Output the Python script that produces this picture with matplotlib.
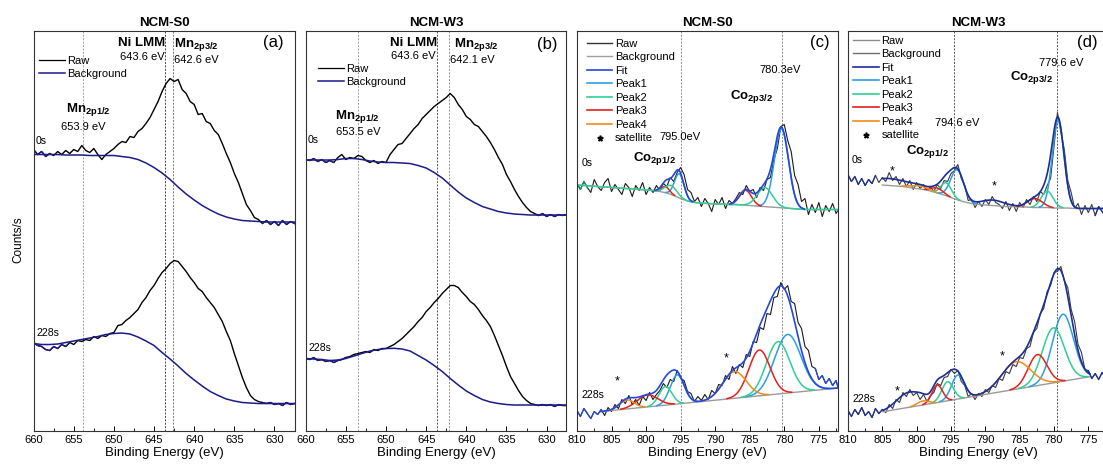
import numpy as np
import matplotlib
matplotlib.use("Agg")
import matplotlib.pyplot as plt
from matplotlib.lines import Line2D
from matplotlib.ticker import MultipleLocator

plt.rcParams['font.family'] = ['Liberation Sans', 'DejaVu Sans']
plt.rcParams['mathtext.fontset'] = 'custom'
plt.rcParams['mathtext.rm'] = 'Liberation Sans'
plt.rcParams['mathtext.bf'] = 'Liberation Sans:bold'

# binding energy axes (eV)
E_MN = np.arange(660.0, 627.25, -0.5)      # raw Mn 2p, 66 pts
E_MN_BG = np.arange(660.0, 626.5, -1.0)    # Mn background, 34 pts
E_CO = np.arange(810.0, 771.75, -0.5)      # raw Co 2p, 77 pts
E_CO_BG = np.arange(810.0, 771.5, -1.0)    # Co background, 39 pts

# ---- (a) NCM-S0, Mn 2p ----
A_RAW_0S = [281, 276, 279, 274, 277, 275, 279, 276, 280, 277,
            281, 279, 285, 280, 278, 282, 276, 271, 276, 279,
            282, 286, 289, 288, 294, 293, 299, 302, 307, 313,
            321, 329, 339, 347, 352, 349, 351, 341, 337, 329,
            326, 316, 317, 309, 307, 300, 296, 287, 277, 268,
            257, 248, 237, 226, 220, 213, 211, 207, 210, 206,
            209, 205, 210, 206, 209, 207]
A_BG_0S = [276, 276, 276, 276, 275.5, 275.5, 275.5, 275, 275, 275, 275, 274,
           273, 271, 267.5, 263, 257.5, 251, 243.5, 236.5, 230.5, 225, 220.5,
           216.5, 213.5, 211.5, 210, 209.5, 209, 208.5, 208.5, 208.5, 208.5, 208.5]
A_RAW_228S = [88, 85, 84, 81, 80, 84, 82, 86, 84, 88,
              86, 90, 89, 91, 90, 94, 92, 95, 94, 97,
              98, 105, 106, 110, 113, 117, 121, 128, 133, 140,
              145, 152, 158, 162, 167, 170, 169, 164, 159, 153,
              148, 142, 139, 133, 128, 123, 116, 109, 99, 90,
              77, 65, 53, 43, 35, 31, 29, 28, 27, 28,
              26, 27, 25, 28, 26, 27]
A_BG_228S = [87, 86, 86, 86.5, 88, 89.5, 91, 92.5, 94, 96, 97, 97.5, 96.5, 93.5,
             89.5, 85, 78, 71.5, 64.5, 57, 50.5, 44.5, 39, 35, 31.5, 29.5, 28,
             27.5, 27, 27, 27, 27, 27, 27]

# ---- (b) NCM-W3, Mn 2p ----
B_RAW_0S = [271, 270, 272, 269, 271, 268, 270, 268, 273, 276,
            271, 273, 272, 275, 274, 270, 268, 270, 267, 269,
            268, 276, 281, 286, 287, 292, 297, 302, 306, 312,
            316, 320, 324, 327, 330, 333, 337, 333, 326, 321,
            314, 311, 306, 304, 299, 294, 288, 281, 273, 266,
            256, 249, 241, 234, 228, 223, 219, 217, 215, 217,
            214, 216, 214, 216, 215, 216]
B_BG_0S = [270.5, 270.5, 270.5, 270.5, 271, 272, 272, 271, 269.5, 268.5, 268,
           268, 267.5, 267, 265, 262.5, 258, 252.5, 245.5, 238.5, 232.5, 228,
           224, 221.5, 219, 217.5, 216.5, 216, 215.5, 215.5, 215.5, 215.5, 215.5, 215.5]
B_RAW_228S = [72, 71, 73, 70, 71, 69, 70, 68, 70, 71,
              73, 74, 76, 77, 78, 79, 78, 81, 80, 82,
              82, 84, 86, 89, 92, 96, 100, 104, 109, 113,
              119, 123, 128, 132, 137, 141, 145, 145, 143, 138,
              134, 129, 126, 121, 115, 110, 104, 95, 85, 75,
              64, 54, 47, 40, 34, 30, 27, 26, 25, 26,
              25, 26, 24, 26, 25, 25]
B_BG_228S = [72, 71.5, 71, 70, 70.5, 72, 74.5, 77, 79.5, 81, 82, 82.2, 81.5, 79.5,
             75, 70.5, 65, 59, 52, 45.5, 39.5, 35, 31, 28.5, 27, 26, 25.5, 25.5,
             25.5, 25.5, 25.5, 25.5, 25.5, 25.5]

# ---- (c) NCM-S0, Co 2p ----
C_RAW_0S = [247, 241, 249, 243, 238, 251, 244, 240, 248, 252,
            239, 246, 241, 236, 247, 243, 234, 245, 240, 248,
            236, 243, 238, 245, 240, 247, 244, 253, 249, 258,
            263, 256, 241, 238, 229, 233, 224, 232, 227, 219,
            231, 226, 233, 222, 230, 227, 232, 238, 236, 245,
            239, 241, 233, 243, 240, 251, 253, 271, 282, 304,
            306, 290, 279, 255, 246, 229, 232, 216, 226, 218,
            228, 214, 225, 219, 227, 217, 223]
C_BG_0S = [245.5, 245, 244.5, 244, 243.5, 243, 242.5, 242, 241.5, 241, 240.5,
           240, 239, 237.5, 235, 232, 229.5, 228, 227.5, 227, 226.5,
           226.5, 226, 226, 225.5, 225, 224.5, 224, 223.5, 223, 222.5,
           222, 221.5, 221, 221, 221, 221, 221, 221]
# peaks: (centre eV, height, FWHM eV)
C_PEAK1_0S = [(780.4, 79, 2.4), (795.2, 24, 1.6)]
C_PEAK2_0S = [(782.8, 19, 2.6), (796.4, 9, 2.0)]
C_PEAK3_0S = [(785.6, 15, 2.0), (797.2, 6, 1.4)]
C_PEAK4_0S = []
C_RAW_228S = [20, 14, 22, 17, 12, 19, 16, 21, 15, 23,
              19, 26, 22, 31, 27, 35, 26, 31, 25, 34,
              30, 38, 31, 36, 40, 47, 43, 51, 49, 60,
              52, 50, 39, 37, 29, 34, 30, 36, 31, 40,
              37, 46, 45, 55, 51, 64, 57, 66, 63, 76,
              74, 89, 88, 103, 101, 117, 116, 133, 134, 148,
              141, 145, 129, 127, 108, 102, 84, 80, 64, 62,
              51, 55, 47, 52, 45, 50, 38]
C_BG_228S_E = [806.5, 772.2]
C_BG_228S = [19, 42.5]
C_PEAK1_228S = [(779.5, 58.6, 4.5), (795.5, 29, 2.4)]
C_PEAK2_228S = [(780.9, 52.3, 4.0), (797.2, 18.6, 2.2)]
C_PEAK3_228S = [(783.6, 45.8, 3.6), (799.8, 12, 3.5)]
C_PEAK4_228S = [(787.2, 26.6, 4.0), (802.8, 9, 2.5)]

# ---- (d) NCM-W3, Co 2p ----
D_RAW_0S = [256, 249, 254, 246, 252, 245, 251, 247, 255, 248,
            253, 249, 258, 250, 254, 246, 252, 244, 250, 241,
            248, 242, 246, 240, 244, 239, 246, 242, 250, 249,
            257, 260, 266, 252, 245, 230, 231, 223, 229, 224,
            231, 226, 234, 228, 226, 222, 229, 220, 227, 219,
            228, 223, 231, 226, 234, 229, 239, 236, 245, 252,
            284, 318, 298, 281, 250, 238, 222, 227, 216, 225,
            218, 226, 215, 224, 219, 214, 221]
D_BG_0S = [251, 249.5, 248, 247, 246, 245.5, 245, 244.5, 244, 243, 242,
           241, 239.5, 237.5, 235.5, 233, 230.5, 228.5, 227, 226, 225.5,
           225, 224.5, 224, 224, 223.5, 223.5, 223, 223, 223, 222.5,
           222.5, 222.5, 222, 222, 222, 222, 222, 222]
D_PEAK1_0S = [(779.4, 88, 2.0), (794.1, 30, 2.2)]
D_PEAK2_0S = [(781.0, 16.5, 2.0), (795.7, 13, 1.8)]
D_PEAK3_0S = [(782.8, 9, 2.5), (797.0, 5, 2.0)]
D_PEAK4_0S = [(799.6, 3, 3.0)]
D_SAT_0S = [(804.0, 7, 6.0), (788.9, 5.5, 4.0)]
D_RAW_228S = [20, 14, 21, 16, 23, 15, 19, 13, 22, 17,
              21, 18, 26, 22, 31, 28, 38, 34, 41, 35,
              38, 31, 36, 29, 35, 38, 47, 45, 53, 54,
              61, 57, 60, 49, 45, 34, 37, 31, 37, 34,
              41, 38, 45, 43, 52, 50, 59, 57, 66, 64,
              73, 72, 82, 84, 98, 102, 117, 122, 139, 145,
              158, 159, 164, 150, 143, 121, 109, 86, 78, 61,
              60, 52, 57, 51, 58, 53, 56]
D_BG_228S_E = [804.9, 774.8]
D_BG_228S = [18.8, 53.8]
D_PEAK1_228S = [(778.7, 67, 3.6), (794.0, 24, 2.2)]
D_PEAK2_228S = [(780.1, 55, 3.8), (795.5, 19, 2.0)]
D_PEAK3_228S = [(782.4, 31, 3.2), (797.0, 17.5, 1.8)]
D_PEAK4_228S = [(785.5, 27.4, 5.0), (799.1, 4, 2.0)]
D_SAT_228S = [(801.2, 15, 4.0)]

NAVY = '#1b1b8a'
GRAY_BG = '#9a9a9a'
PEAK_COLS = ['#2a9fe2', '#2fcf93', '#e3201b', '#f28a1a']


def gauss(e, peaks):
    out = np.zeros_like(e)
    for c, h, w in peaks:
        out += h * np.exp(-4 * np.log(2) * (e - c) ** 2 / w ** 2)
    return out


def style_axis(ax, xlim, title):
    ax.set_xlim(*xlim)
    ax.set_ylim(0, 400)
    ax.set_yticks([])
    ax.xaxis.set_major_locator(MultipleLocator(5))
    ax.xaxis.set_minor_locator(MultipleLocator(2.5))
    ax.tick_params(axis='x', which='both', direction='in', labelsize=8, pad=3)
    ax.tick_params(axis='x', which='major', length=3.8, width=0.7)
    ax.tick_params(axis='x', which='minor', length=2.2, width=0.6)
    for s in ax.spines.values():
        s.set_linewidth(0.8)
        s.set_color('#333333')
    ax.set_title(title, fontsize=9.5, fontweight='bold', pad=3)
    ax.set_xlabel('Binding Energy (eV)', fontsize=9.5, labelpad=2)


def edge_overlay(ax, e, raw, mask, color):
    ax.plot(e, np.where(mask, raw, np.nan), color=color, lw=0.9)


def mn_panel(ax, raw0, bg0, raw228, bg228, edges0, edges228):
    e = E_MN
    for raw, bg, (lo, hi) in ((raw0, bg0, edges0), (raw228, bg228, edges228)):
        raw = np.array(raw, float)
        ax.plot(e, raw, color='black', lw=1.0)
        ax.plot(E_MN_BG, bg, color=NAVY, lw=1.1)
        edge_overlay(ax, e, raw, (e >= lo) | (e <= hi), NAVY)


def co_spectrum(ax, raw, bg_e, bg_h, peaks, sats, raw_col, fit_col, p1_col,
                edges, edge_col, full_green=False):
    raw = np.array(raw, float)
    ax.plot(E_CO, raw, color=raw_col, lw=0.8)
    ax.plot(bg_e, bg_h, color=GRAY_BG, lw=1.0)
    e = np.linspace(bg_e[0], bg_e[-1], 700)
    base = np.interp(e, np.array(bg_e)[::-1], np.array(bg_h)[::-1])
    comps = [gauss(e, p) for p in peaks]
    signal = sum(comps) + gauss(e, sats)
    total = base + signal
    if full_green:
        total = np.where(signal > 0.4, total, np.nan)
    cols = [p1_col] + PEAK_COLS[1:]
    ax.plot(e, total, color=fit_col, lw=1.2, zorder=3)
    for i, (y, col) in enumerate(zip(comps, cols)):
        if not peaks[i]:
            continue
        if full_green and i == 1:
            ax.plot(e, base + y, color=col, lw=1.1, zorder=2.5)
        else:
            ax.plot(e, np.where(y > 0.4, base + y, np.nan), color=col, lw=1.1)
    lo, hi = edges
    edge_overlay(ax, E_CO, raw, (E_CO >= lo) | (E_CO <= hi), edge_col)


fig = plt.figure(figsize=(11.03, 4.68), dpi=100)
bot, hgt = 0.0801, 0.8547
ax_a = fig.add_axes([0.03046, bot, 0.2371, hgt])
ax_b = fig.add_axes([0.27715, bot, 0.2364, hgt])
ax_c = fig.add_axes([0.5231, bot, 0.2366, hgt])
ax_d = fig.add_axes([0.7688, bot, 0.2366, hgt])

sub_fs = 9.5
lab_fs = 8
small_fs = 7.6
leg_kw = dict(loc='upper left', frameon=False, fontsize=lab_fs, handlelength=2.3,
              handletextpad=0.25, labelspacing=0.32, borderaxespad=0, borderpad=0)

# (a)
mn_panel(ax_a, A_RAW_0S, A_BG_0S, A_RAW_228S, A_BG_228S, (658, 631.5), (655.5, 631.5))
for x, c in ((653.9, '#a0a0a0'), (643.6, '#444444'), (642.6, '#777777')):
    ax_a.axvline(x, color=c, ls=(0, (2, 1.5)), lw=0.7, zorder=0)
style_axis(ax_a, (660, 627.43), 'NCM-S0')
ax_a.text(646.5, 387.5, 'Ni LMM', fontsize=sub_fs, fontweight='bold', ha='center', va='center')
ax_a.text(646.5, 373.5, '643.6 eV', fontsize=lab_fs, ha='center', va='center')
ax_a.text(639.7, 386, r'$\mathbf{Mn_{2p3/2}}$', fontsize=sub_fs, ha='center', va='center')
ax_a.text(639.7, 370.5, '642.6 eV', fontsize=lab_fs, ha='center', va='center')
ax_a.text(653.2, 321, r'$\mathbf{Mn_{2p1/2}}$', fontsize=sub_fs, ha='center', va='center')
ax_a.text(653.8, 303.5, '653.9 eV', fontsize=lab_fs, ha='center', va='center')
ax_a.text(659.8, 289.5, '0s', fontsize=small_fs, ha='left', va='center')
ax_a.text(659.7, 97.5, '228s', fontsize=small_fs, ha='left', va='center')
ax_a.text(0.915, 0.969, '(a)', transform=ax_a.transAxes, fontsize=12, ha='center', va='center')
ax_a.legend([Line2D([], [], color='black', lw=0.9), Line2D([], [], color=NAVY, lw=1.1)],
            ['Raw', 'Background'], bbox_to_anchor=(0.021, 0.9375), **leg_kw)

# (b)
mn_panel(ax_b, B_RAW_0S, B_BG_0S, B_RAW_228S, B_BG_228S, (656.5, 631), (655, 631))
for x, c in ((653.5, '#a0a0a0'), (643.6, '#555555'), (642.1, '#909090')):
    ax_b.axvline(x, color=c, ls=(0, (2, 1.5)), lw=0.7, zorder=0)
style_axis(ax_b, (660, 627.53), 'NCM-W3')
ax_b.text(646.6, 387.5, 'Ni LMM', fontsize=sub_fs, fontweight='bold', ha='center', va='center')
ax_b.text(646.6, 374.5, '643.6 eV', fontsize=lab_fs, ha='center', va='center')
ax_b.text(638.7, 386, r'$\mathbf{Mn_{2p3/2}}$', fontsize=sub_fs, ha='center', va='center')
ax_b.text(639.3, 370.5, '642.1 eV', fontsize=lab_fs, ha='center', va='center')
ax_b.text(653.6, 314, r'$\mathbf{Mn_{2p1/2}}$', fontsize=sub_fs, ha='center', va='center')
ax_b.text(653.5, 298.5, '653.5 eV', fontsize=lab_fs, ha='center', va='center')
ax_b.text(659.7, 290.5, '0s', fontsize=small_fs, ha='left', va='center')
ax_b.text(659.7, 82.5, '228s', fontsize=small_fs, ha='left', va='center')
ax_b.text(0.926, 0.964, '(b)', transform=ax_b.transAxes, fontsize=12, ha='center', va='center')
ax_b.legend([Line2D([], [], color='black', lw=0.9), Line2D([], [], color=NAVY, lw=1.1)],
            ['Raw', 'Background'], bbox_to_anchor=(0.047, 0.9175), **leg_kw)

# (c)
co_spectrum(ax_c, C_RAW_0S, E_CO_BG, C_BG_0S,
            [C_PEAK1_0S, C_PEAK2_0S, C_PEAK3_0S, C_PEAK4_0S], [],
            '#1a1a1a', '#2448de', PEAK_COLS[0], (808.5, 700), '#1f8f6a', full_green=True)
co_spectrum(ax_c, C_RAW_228S, C_BG_228S_E, C_BG_228S,
            [C_PEAK1_228S, C_PEAK2_228S, C_PEAK3_228S, C_PEAK4_228S], [],
            '#1a1a1a', '#2448de', PEAK_COLS[0], (806.5, 775.5), '#2448de')
for x in (795.0, 780.3):
    ax_c.axvline(x, color='#8a8a8a', ls=(0, (2, 1.5)), lw=0.7, zorder=0)
style_axis(ax_c, (810, 772.23), 'NCM-S0')
ax_c.text(780.6, 360.5, '780.3eV', fontsize=lab_fs, ha='center', va='center')
ax_c.text(784.7, 334, r'$\mathbf{Co_{2p3/2}}$', fontsize=sub_fs, ha='center', va='center')
ax_c.text(795.1, 293.5, '795.0eV', fontsize=lab_fs, ha='center', va='center')
ax_c.text(798.7, 272, r'$\mathbf{Co_{2p1/2}}$', fontsize=sub_fs, ha='center', va='center')
ax_c.text(809.3, 267.5, '0s', fontsize=small_fs, ha='left', va='center')
ax_c.text(809.3, 35.5, '228s', fontsize=small_fs, ha='left', va='center')
for x, y in ((804.2, 49), (788.4, 72)):
    ax_c.text(x, y, '*', fontsize=9, ha='center', va='center')
ax_c.text(0.931, 0.969, '(c)', transform=ax_c.transAxes, fontsize=12, ha='center', va='center')

# (d)
co_spectrum(ax_d, D_RAW_0S, E_CO_BG[5:], D_BG_0S[5:],
            [D_PEAK1_0S, D_PEAK2_0S, D_PEAK3_0S, D_PEAK4_0S], D_SAT_0S,
            '#3a3a3a', '#1c2f96', PEAK_COLS[0], (806, 774), '#1c2f96')
co_spectrum(ax_d, D_RAW_228S, D_BG_228S_E, D_BG_228S,
            [D_PEAK1_228S, D_PEAK2_228S, D_PEAK3_228S, D_PEAK4_228S], D_SAT_228S,
            '#3a3a3a', '#1c2f96', PEAK_COLS[0], (805, 775), '#1c2f96')
for x in (794.6, 779.6):
    ax_d.axvline(x, color='#555555', ls=(0, (2, 1.5)), lw=0.7, zorder=0)
style_axis(ax_d, (810, 772.0), 'NCM-W3')
ax_d.text(778.9, 367.5, '779.6 eV', fontsize=lab_fs, ha='center', va='center')
ax_d.text(783.2, 353, r'$\mathbf{Co_{2p3/2}}$', fontsize=sub_fs, ha='center', va='center')
ax_d.text(794.1, 307.5, '794.6 eV', fontsize=lab_fs, ha='center', va='center')
ax_d.text(798.4, 279, r'$\mathbf{Co_{2p1/2}}$', fontsize=sub_fs, ha='center', va='center')
ax_d.text(809.4, 270.5, '0s', fontsize=small_fs, ha='left', va='center')
ax_d.text(809.4, 31.5, '228s', fontsize=small_fs, ha='left', va='center')
for x, y in ((803.6, 259), (788.7, 244), (802.9, 39), (787.6, 74)):
    ax_d.text(x, y, '*', fontsize=9, ha='center', va='center')
ax_d.text(0.916, 0.971, '(d)', transform=ax_d.transAxes, fontsize=12, ha='center', va='center')

# legends for the fitted panels
co_labels = ['Raw', 'Background', 'Fit', 'Peak1', 'Peak2', 'Peak3', 'Peak4', 'satellite']
for ax, raw_c, bg_c, fit_c, anchor in ((ax_c, '#333333', '#a0a0a0', '#2448de', (0.038, 0.98)),
                                       (ax_d, '#8c8c8c', '#6e6e6e', '#1c2f96', (0.019, 0.9875))):
    handles = [Line2D([], [], color=raw_c, lw=1.0), Line2D([], [], color=bg_c, lw=1.0),
               Line2D([], [], color=fit_c, lw=1.2)]
    handles += [Line2D([], [], color=c, lw=1.2) for c in PEAK_COLS]
    handles.append(Line2D([], [], ls='none', marker='$*$', ms=3.5, color='black'))
    ax.legend(handles, co_labels, bbox_to_anchor=anchor, **leg_kw)

fig.text(18 / 1103, 1 - 240 / 468, 'Counts/s', rotation=90, fontsize=8.5,
         ha='center', va='center')

fig.savefig('out.png', dpi=100)
plt.close(fig)
